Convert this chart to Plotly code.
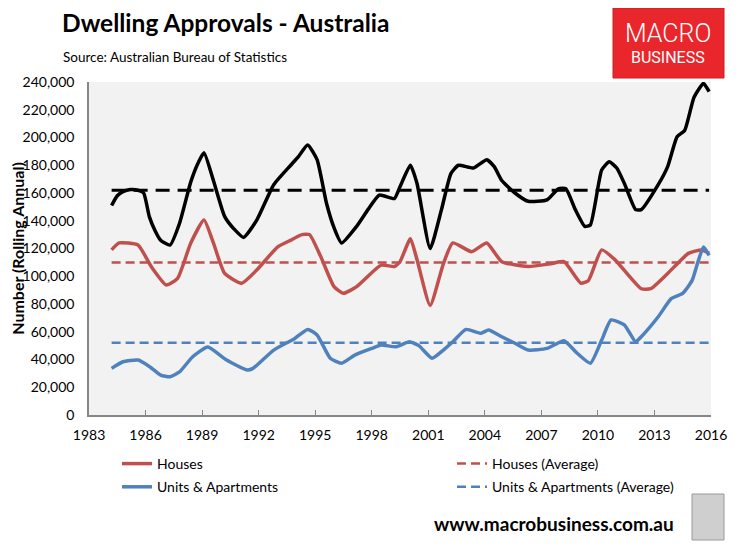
import plotly.graph_objects as go

# rolling annual dwelling approvals (in thousands)
total_years = [1984.2, 1984.5, 1984.8, 1985.2, 1985.6, 1985.9, 1986.2, 1986.5, 1986.8, 1987.3,
               1987.8, 1988.4, 1988.8, 1989.1, 1989.6, 1990.2, 1990.7, 1991.2, 1991.9, 1992.8,
               1993.7, 1994.1, 1994.6, 1995.1, 1995.6, 1996.0, 1996.4, 1997.2, 1997.8, 1998.4,
               1999.2, 1999.5, 2000.05, 2000.4, 2001.1, 2001.7, 2002.2, 2002.6, 2003.4, 2004.1,
               2004.5, 2004.9, 2005.6, 2006.3, 2007.3, 2007.9, 2008.3, 2008.8, 2009.3, 2009.6,
               2010.2, 2010.6, 2011.0, 2011.4, 2012.0, 2012.3, 2013.2, 2013.7, 2014.2, 2014.6,
               2015.1, 2015.6, 2015.9]
total_vals = [151, 158, 161, 162.5, 162, 160, 143, 133, 126, 122.5,
              138, 168, 182, 189, 169, 143, 134, 128, 140.5, 166,
              180, 186, 194.6, 184, 152.6, 135, 124, 136, 148, 158.5,
              156, 164.5, 180, 167, 120, 148, 174, 180, 178, 184,
              179, 169, 160, 154, 155, 163, 163, 148, 136, 137,
              176.6, 182.5, 178, 167, 148, 148, 166, 179, 200.6, 205,
              229, 239, 233]

houses_years = [1984.2, 1984.6, 1985.6, 1986.3, 1987.1, 1987.7, 1988.4, 1989.1, 1989.6, 1990.2,
                1991.1, 1991.9, 1993.0, 1993.7, 1994.3, 1994.7, 1995.3, 1996.0, 1996.5, 1997.2,
                1998.5, 1999.2, 1999.5, 2000.05, 2000.4, 2001.1, 2001.8, 2002.3, 2003.3, 2004.1,
                2004.9, 2006.3, 2007.5, 2008.2, 2009.1, 2009.5, 2010.2, 2010.9, 2012.3, 2012.8,
                2013.7, 2014.8, 2015.5, 2015.9]
houses_vals = [119, 124, 122.5, 107, 93.7, 98.5, 124, 140.5, 124, 102,
               95, 104.5, 121, 126, 130, 130, 114, 92.5, 87.7, 92.5,
               108, 107, 110.5, 127, 112, 79, 109, 124, 117.7, 124,
               110.5, 107, 109, 110.5, 95, 97, 119, 112, 91, 91,
               102, 116.5, 119, 116.5]

units_years = [1984.2, 1984.8, 1985.6, 1986.2, 1986.8, 1987.3, 1987.8, 1988.5, 1989.3, 1990.3,
               1991.4, 1991.7, 1992.8, 1993.9, 1994.6, 1995.1, 1995.8, 1996.4, 1997.1, 1998.0,
               1998.5, 1999.3, 2000.0, 2000.5, 2001.2, 2001.8, 2002.3, 2003.0, 2003.8, 2004.2,
               2004.9, 2005.6, 2006.3, 2007.3, 2008.2, 2008.9, 2009.6, 2010.2, 2010.7, 2011.4,
               2012.0, 2012.3, 2013.2, 2013.9, 2014.5, 2015.0, 2015.3, 2015.6, 2015.9]
units_vals = [33.6, 38.4, 39.6, 35, 28.8, 27.6, 31, 42, 49, 39.6,
              32.4, 33.6, 46.8, 55, 61.7, 57.7, 40.9, 37.3, 43.2, 48,
              50.4, 49.2, 52.8, 50, 40.9, 46.8, 52.8, 61.7, 58.9, 61.3,
              56.4, 51.7, 46.8, 48, 53.5, 44.5, 37.3, 54, 68.5, 65,
              52.8, 56.4, 70.8, 84, 87.7, 97, 110, 121, 115]

avg_span = [1984.2, 2015.9]
total_avg = 162
houses_avg = 110
units_avg = 52

x_ticks = [1983, 1986, 1989, 1992, 1995, 1998, 2001, 2004, 2007, 2010, 2013, 2016]

RED = '#c0504d'
BLUE = '#4f81bd'
FONT = 'Lato'

# the page body adds an 8px margin, so the figure is drawn 8px smaller
OFF = 8
W, H = 738 - OFF, 548 - OFF
# plot area in page pixels: left 89, right 711, top 82, bottom 415
L, R, T, B = 89, 711, 82, 415
def px(x):
    return (x - L) / (R - L)
def py(y):
    return (B - y) / (B - T)

fig = go.Figure()

fig.add_trace(go.Scatter(x=total_years, y=[v * 1000 for v in total_vals], mode='lines',
                         line=dict(color='black', width=3.5, shape='spline', smoothing=0.5),
                         showlegend=False, name='Total'))
fig.add_trace(go.Scatter(x=avg_span, y=[total_avg * 1000] * 2, mode='lines',
                         line=dict(color='black', width=3, dash='14px,8px'),
                         showlegend=False, name='Total (Average)'))

fig.add_trace(go.Scatter(x=houses_years, y=[v * 1000 for v in houses_vals], mode='lines',
                         line=dict(color=RED, width=3.5, shape='spline', smoothing=0.5),
                         name='Houses', legend='legend', legendgroup='a'))
fig.add_trace(go.Scatter(x=avg_span, y=[houses_avg * 1000] * 2, mode='lines',
                         line=dict(color=RED, width=2.5, dash='9px,5px'),
                         name='Houses (Average)', legend='legend2', legendgroup='c'))
fig.add_trace(go.Scatter(x=units_years, y=[v * 1000 for v in units_vals], mode='lines',
                         line=dict(color=BLUE, width=3.5, shape='spline', smoothing=0.5),
                         name='Units & Apartments', legend='legend', legendgroup='b'))
fig.add_trace(go.Scatter(x=avg_span, y=[units_avg * 1000] * 2, mode='lines',
                         line=dict(color=BLUE, width=2.5, dash='9px,5px'),
                         name='Units & Apartments (Average)', legend='legend2', legendgroup='d'))

legend_style = dict(orientation='v', yanchor='top', xanchor='left', font=dict(size=14),
                    bgcolor='rgba(0,0,0,0)', tracegroupgap=2)

fig.update_layout(
    width=W, height=H,
    margin=dict(l=L - OFF, r=W - (R - OFF), t=T - OFF, b=H - (B - OFF), autoexpand=False),
    paper_bgcolor='white', plot_bgcolor='#f2f2f2',
    font=dict(family=FONT, size=14, color='black'),
    xaxis=dict(range=[1983, 2016], tickvals=x_ticks, showgrid=False, zeroline=False,
               showline=True, linecolor='#868686', linewidth=1.5, automargin=False,
               ticks='inside', ticklen=5, tickcolor='#868686', tickfont=dict(size=14),
               ticklabelstandoff=6),
    yaxis=dict(range=[0, 240000], dtick=20000, tickformat=',', showgrid=False, zeroline=False,
               showline=True, linecolor='#868686', linewidth=1.5, ticks='', automargin=False,
               tickfont=dict(size=14), ticklabelstandoff=10,
               title=dict(text='<b>Number (Rolling Annual)</b>', font=dict(size=16), standoff=3)),
    legend=dict(x=px(117), y=py(448), **legend_style),
    legend2=dict(x=px(452), y=py(448), **legend_style),
)

# title and source
fig.add_annotation(text='<b>Dwelling Approvals - Australia</b>', xref='paper', yref='paper',
                   x=px(60), y=py(22), xanchor='left', yanchor='middle', showarrow=False,
                   font=dict(size=24.5, family=FONT))
fig.add_annotation(text='Source: Australian Bureau of Statistics', xref='paper', yref='paper',
                   x=px(61), y=py(57), xanchor='left', yanchor='middle', showarrow=False,
                   font=dict(size=13.5, family=FONT))

# MacroBusiness logo box
fig.add_shape(type='rect', xref='paper', yref='paper', x0=px(613), x1=px(724), y0=py(78), y1=py(8),
              fillcolor='#e8262b', line=dict(color='#c81e22', width=1))
fig.add_annotation(text='MACRO', xref='paper', yref='paper', x=px(668), y=py(33),
                   xanchor='center', yanchor='middle', showarrow=False,
                   font=dict(size=25, color='white', family='Roboto', weight=300))
fig.add_annotation(text='BUSINESS', xref='paper', yref='paper', x=px(668), y=py(57),
                   xanchor='center', yanchor='middle', showarrow=False,
                   font=dict(size=16, color='white', family='Roboto'))

# footer
fig.add_annotation(text='<b>www.macrobusiness.com.au</b>', xref='paper', yref='paper',
                   x=px(676), y=py(523), xanchor='right', yanchor='middle', showarrow=False,
                   font=dict(size=19, family=FONT))
fig.add_shape(type='rect', xref='paper', yref='paper', x0=px(692), x1=px(724), y0=py(540), y1=py(494),
              fillcolor='#cfcfcf', line=dict(color='#9a9a9a', width=1))

fig.write_html('out.html')
